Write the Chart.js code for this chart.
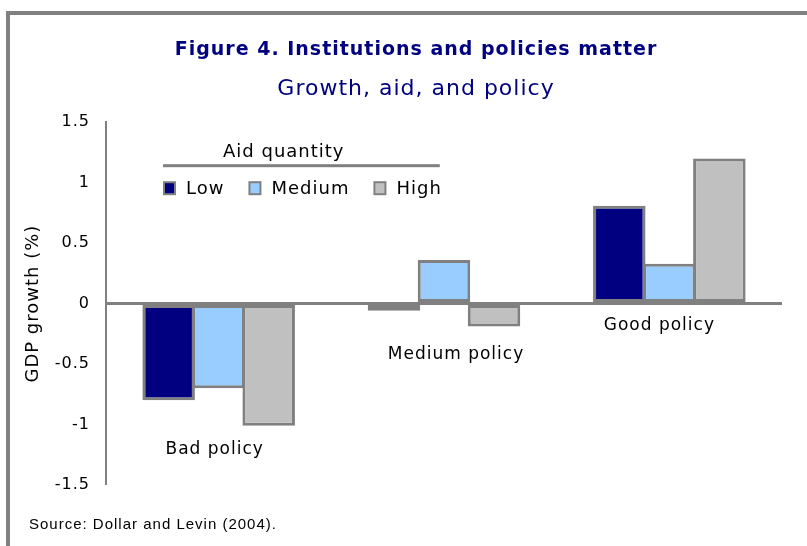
<!DOCTYPE html>
<html>
<head>
<meta charset="utf-8">
<script src="https://cdn.jsdelivr.net/npm/chart.js@4.4.1/dist/chart.umd.min.js"></script>
<style>
  html, body { margin: 0; padding: 0; background: #fff; }
</style>
</head>
<body>
<canvas id="myChart" width="807" height="546"></canvas>
<script>
// Data
var categories = ['Bad policy', 'Medium policy', 'Good policy'];
var seriesNames = ['Low', 'Medium', 'High'];
var lowAid = [-0.8, -0.06, 0.81];
var mediumAid = [-0.7, 0.36, 0.33];
var highAid = [-1.01, -0.19, 1.2];
var yTicks = [-1.5, -1, -0.5, 0, 0.5, 1, 1.5];

var FONT = '"DejaVu Sans", Verdana, sans-serif';
var GREY = '#808080';

// frame, category labels, legend and source note
var decorations = {
  id: 'decorations',
  beforeDraw: function (chart) {
    var ctx = chart.ctx;
    ctx.save();
    ctx.fillStyle = '#fff';
    ctx.fillRect(0, 0, chart.width, chart.height);
    ctx.fillStyle = GREY;
    ctx.fillRect(6, 11, chart.width, 4);
    ctx.fillRect(6, 11, 4, chart.height);
    ctx.restore();
    // the original text is spaced out a little
    ctx.letterSpacing = '1px';
  },
  afterDraw: function (chart) {
    var ctx = chart.ctx;
    var area = chart.chartArea;
    var xs = chart.scales.x, ys = chart.scales.y;
    ctx.save();
    ctx.letterSpacing = '1px';
    ctx.fillStyle = '#000';
    ctx.font = '17px ' + FONT;
    ctx.textAlign = 'center';
    ctx.textBaseline = 'middle';

    // category labels sit where Excel left them
    var labelAt = [[-4, -1.21], [12, -0.42], [-10, -0.18]];
    categories.forEach(function (c, i) {
      ctx.fillText(c, xs.getPixelForValue(i) + labelAt[i][0], ys.getPixelForValue(labelAt[i][1]));
    });

    // legend
    ctx.font = '18px ' + FONT;
    var lx = area.left + 57, ly = area.top + 66;
    var x = lx;
    ctx.textAlign = 'left';
    chart.data.datasets.forEach(function (ds, i) {
      ctx.fillStyle = GREY;
      ctx.fillRect(x, ly - 7, 13, 14);
      ctx.fillStyle = ds.backgroundColor;
      ctx.fillRect(x + 2, ly - 5, 9, 10);
      ctx.fillStyle = '#000';
      ctx.fillText(ds.label, x + 23, ly + 1);
      x += 23 + ctx.measureText(ds.label).width;
      if (i < chart.data.datasets.length - 1) x += 24;
    });
    ctx.fillStyle = GREY;
    ctx.fillRect(lx, area.top + 42, x - lx - 2, 3);
    ctx.fillStyle = '#000';
    ctx.fillText('Aid quantity', lx + 60, area.top + 30);

    // source
    ctx.font = '15px "Liberation Sans", Arial, sans-serif';
    ctx.fillText('Source: Dollar and Levin (2004).', 29, 525);
    ctx.restore();
  }
};

function bars(label, values, colour) {
  return {
    label: label,
    data: values,
    backgroundColor: colour,
    borderColor: GREY,
    borderWidth: 3,
    borderSkipped: false,
    barPercentage: 1.05,
    categoryPercentage: 0.666
  };
}

var ctx = document.getElementById('myChart').getContext('2d');
var myChart = new Chart(ctx, {
  type: 'bar',
  data: {
    labels: categories,
    datasets: [
      bars(seriesNames[0], lowAid, '#000080'),
      bars(seriesNames[1], mediumAid, '#99CCFF'),
      bars(seriesNames[2], highAid, '#C0C0C0')
    ]
  },
  options: {
    responsive: false,
    devicePixelRatio: 1,
    animation: false,
    layout: { padding: { left: 50, right: 25, top: 0, bottom: 61 } },
    plugins: {
      legend: { display: false },
      tooltip: { enabled: false },
      title: {
        display: true,
        text: 'Figure 4. Institutions and policies matter',
        color: '#000080',
        font: { family: FONT, size: 19, weight: 'bold', lineHeight: 1.2 },
        padding: { top: 39, bottom: 0 }
      },
      subtitle: {
        display: true,
        text: 'Growth, aid, and policy',
        color: '#000080',
        font: { family: FONT, size: 22, lineHeight: 1.2 },
        padding: { top: 14, bottom: 20 }
      }
    },
    scales: {
      x: { display: false },
      y: {
        min: -1.5,
        max: 1.5,
        afterBuildTicks: function (scale) {
          scale.ticks = yTicks.map(function (v) { return { value: v }; });
        },
        afterFit: function (scale) { scale.width = 56; },
        border: { display: true, color: GREY, width: 2 },
        grid: {
          drawTicks: false,
          tickLength: 0,
          color: function (c) { return c.tick && c.tick.value === 0 ? GREY : 'rgba(0,0,0,0)'; },
          lineWidth: function (c) { return c.tick && c.tick.value === 0 ? 3 : 0; }
        },
        ticks: {
          color: '#000',
          padding: 16,
          font: { family: FONT, size: 16 },
          callback: function (v) { return String(v); }
        },
        title: {
          display: true,
          text: 'GDP growth (%)',
          color: '#000',
          font: { family: FONT, size: 18, lineHeight: 1.2 },
          padding: { top: -27, bottom: 0 }
        }
      }
    }
  },
  plugins: [decorations]
});
</script>
</body>
</html>
